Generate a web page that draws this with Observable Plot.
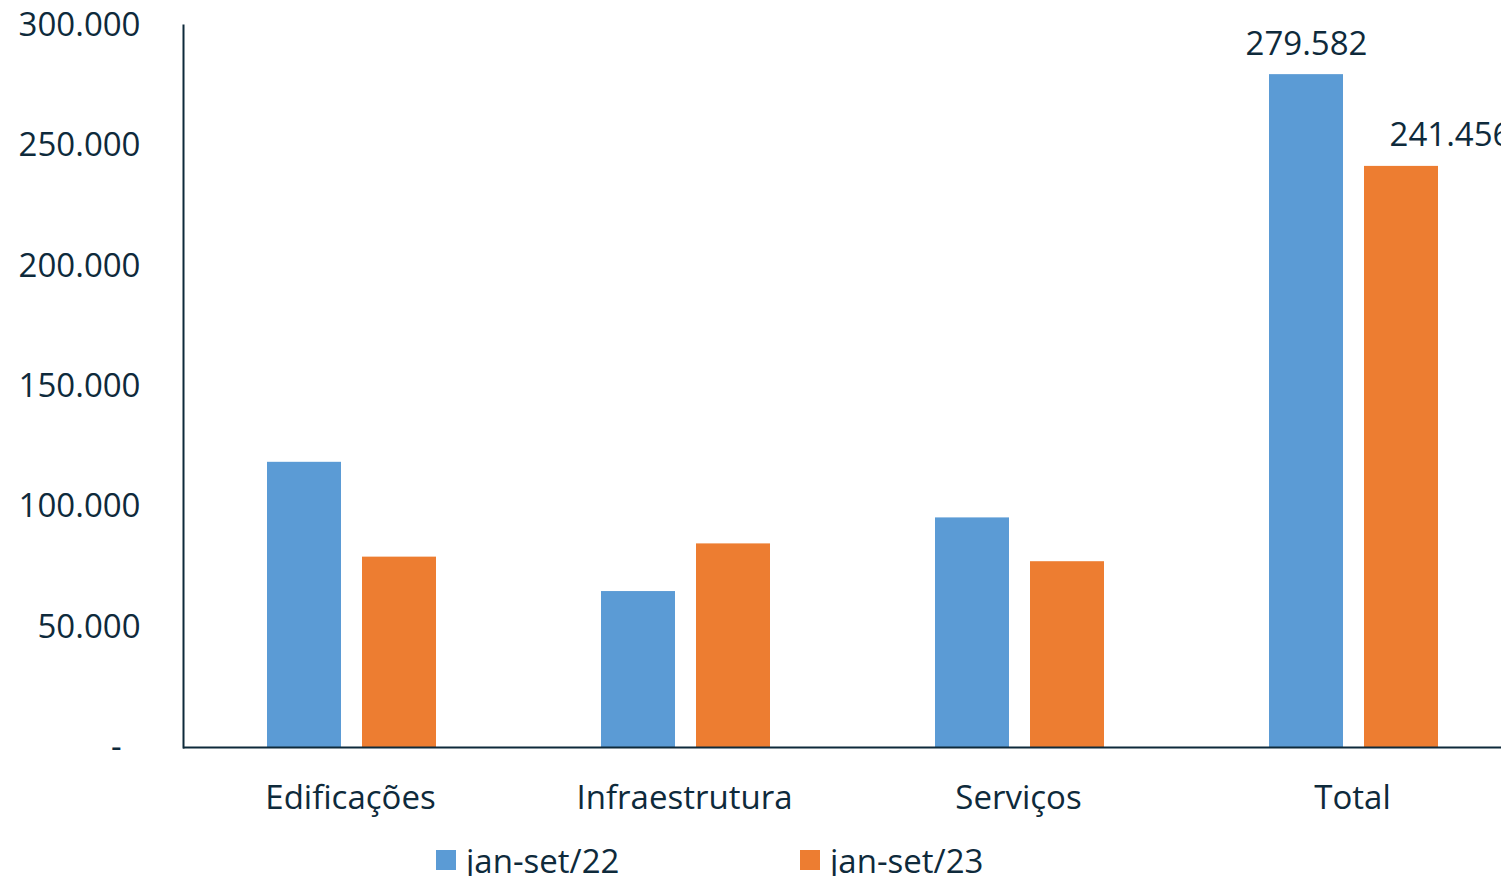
<!DOCTYPE html>
<html>
<head>
<meta charset="utf-8">
<script src="https://cdn.jsdelivr.net/npm/d3@7"></script>
<script src="https://cdn.jsdelivr.net/npm/@observablehq/plot@0.6"></script>
<style>
  html, body { margin: 0; padding: 0; background: #fff; }
  body { width: 1501px; height: 876px; overflow: hidden; position: relative; font-family: "Open Sans", sans-serif; }
  #legend { position: absolute; left: 436px; top: 840px; height: 40px; display: flex; align-items: center; font-size: 33px; color: #0e2a3b; }
  .item { display: flex; align-items: center; width: 364px; }
  .sw { width: 20px; height: 20px; margin-right: 10px; }
</style>
</head>
<body>
<div id="chart"></div>
<div id="legend"></div>
<script>
const categories = ["Edificações", "Infraestrutura", "Serviços", "Total"];
const seriesNames = ["jan-set/22", "jan-set/23"];
const values22 = [118500, 64800, 95400, 279582];
const values23 = [79100, 84600, 77200, 241456];
const colors = ["#5B9BD5", "#ED7D31"];
const yTicks = [0, 50000, 100000, 150000, 200000, 250000, 300000];
const labeledCategory = "Total";

const data = [];
categories.forEach((c, i) => {
  data.push({cat: c, series: seriesNames[0], value: values22[i]});
  data.push({cat: c, series: seriesNames[1], value: values23[i]});
});

const fmt = d => d === 0 ? "-\u2007" : d3.format(",")(d).replace(/,/g, ".");
const textColor = "#0e2a3b";

const chart = Plot.plot({
  width: 1520,
  height: 835,
  marginLeft: 183,
  marginRight: 1,
  marginTop: 25,
  marginBottom: 88,
  style: {fontFamily: "Open Sans", fontSize: "33px", color: textColor, maxWidth: "none", overflow: "visible"},
  fx: {domain: categories, padding: 0, label: null},
  x: {domain: seriesNames, paddingInner: 0.22, paddingOuter: 0.86, align: 0.51, axis: null},
  y: {domain: [0, 300000], label: null},
  color: {domain: seriesNames, range: colors},
  marks: [
    Plot.barY(data, {fx: "cat", x: "series", y: "value", fill: "series"}),
    Plot.ruleY([0], {stroke: textColor, strokeWidth: 2}),
    Plot.frame({anchor: "left", facetAnchor: "left", stroke: textColor, strokeWidth: 2}),
    Plot.axisY({ticks: yTicks, tickFormat: fmt, tickSize: 0, tickPadding: 43, fontSize: 33, fill: textColor, label: null}),
    Plot.axisFx({anchor: "bottom", tickSize: 0, tickPadding: 38, fontSize: 33, fill: textColor, label: null}),
    Plot.text(data.filter(d => d.cat === labeledCategory && d.series === seriesNames[0]), {
      fx: "cat", x: "series", y: "value", text: d => fmt(d.value), lineAnchor: "bottom", dy: -20, fontSize: 33, fill: textColor
    }),
    Plot.text(data.filter(d => d.cat === labeledCategory && d.series === seriesNames[1]), {
      fx: "cat", x: "series", y: "value", text: d => fmt(d.value), lineAnchor: "bottom", dy: -20, dx: 49, fontSize: 33, fill: textColor
    })
  ]
});
document.getElementById("chart").appendChild(chart);

const legend = document.getElementById("legend");
seriesNames.forEach((s, i) => {
  const item = document.createElement("div");
  item.className = "item";
  const sw = document.createElement("span");
  sw.className = "sw";
  sw.style.background = colors[i];
  const t = document.createElement("span");
  t.textContent = s;
  item.appendChild(sw);
  item.appendChild(t);
  legend.appendChild(item);
});
</script>
</body>
</html>
